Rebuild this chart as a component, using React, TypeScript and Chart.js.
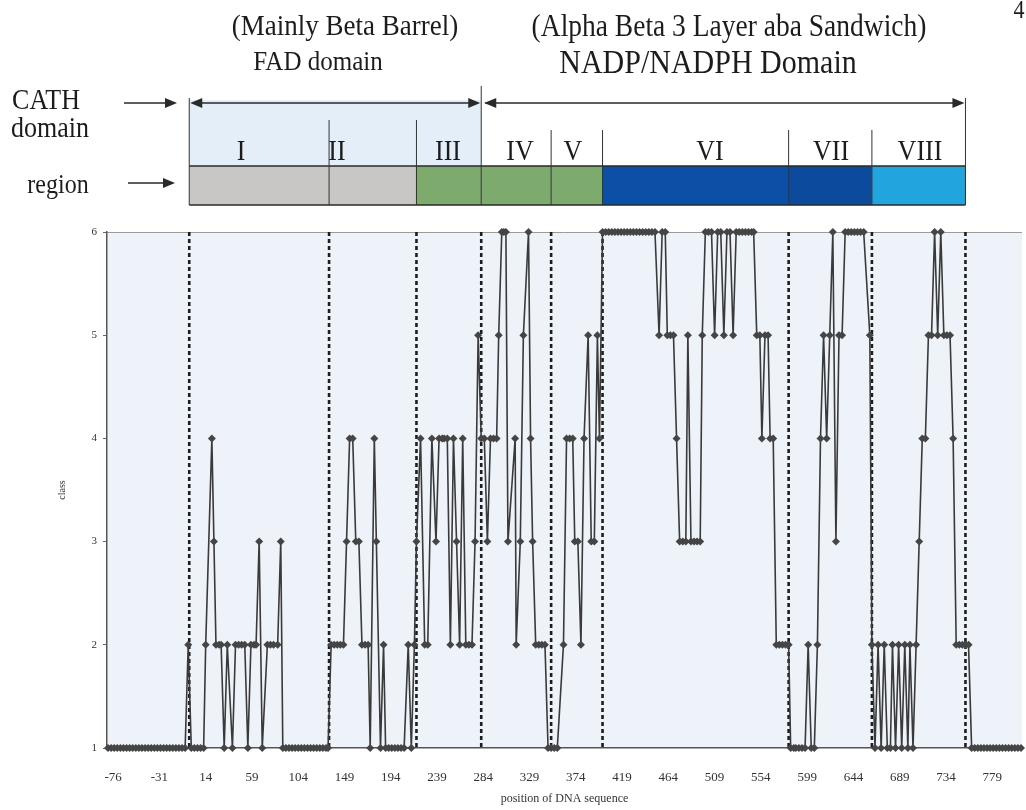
import React, { useEffect, useRef } from 'react';
import { Chart, registerables } from 'chart.js';

Chart.register(...registerables);

const SERIF = '"Liberation Serif", "Times New Roman", serif';

// x-axis tick labels (position of DNA sequence)
const X_TICKS = [-76, -31, 14, 59, 104, 149, 194, 239, 284, 329, 374, 419, 464, 509, 554, 599, 644, 689, 734, 779];
const Y_TICKS = [1, 2, 3, 4, 5, 6];

// regions (I..VIII) and their boundaries on the position axis
const REGION_NAMES = ['I', 'II', 'III', 'IV', 'V', 'VI', 'VII', 'VIII'];
const REGION_BOUNDS = [-2, 134, 219, 282, 350, 400, 581, 662, 753];
const REGION_COLORS = ['#c8c7c5', '#c8c7c5', '#7dab6e', '#7dab6e', '#7dab6e', '#0b4fa6', '#0b4a9d', '#22a4df'];
// CATH domains: FAD domain | NADP/NADPH domain
const CATH_BOUNDS = [-2, 282, 753];

// series: position of DNA sequence -> class
const POSITIONS = [
  -81, -78, -75, -72, -69, -66, -63, -60, -57, -54, -51, -48, -45,
  -42, -39, -36, -33, -30, -27, -24, -21, -18, -15, -12, -9, -6,
  -3, 0, 3, 6, 9, 12, 14, 20, 22, 24, 27, 29, 32,
  35, 40, 43, 46, 49, 52, 55, 58, 61, 63, 66, 69,
  74, 77, 80, 84, 87, 89, 92, 95, 98, 101, 104, 107,
  110, 113, 116, 119, 122, 125, 128, 131, 133, 136, 139, 142, 145, 148,
  151, 154, 157, 160, 163, 166, 169, 172, 174, 178, 180, 184, 187,
  189, 192, 195, 198, 201, 204, 207, 211, 214, 217, 219, 223,
  227, 230, 234, 238, 241, 244, 246, 249, 252, 255, 258, 261,
  264, 267, 270, 273, 276, 279, 282, 285, 288, 291, 294, 297,
  299, 302, 304, 306, 308, 315, 316, 320, 323, 328, 330, 332,
  335, 338, 341, 344, 347, 350, 353, 356, 362, 365, 368, 371,
  373, 376, 379, 382, 386, 389, 392, 395, 397, 400,
  403, 406, 409, 412, 415, 418, 421, 424, 427, 430, 433, 436, 439, 442, 445, 448, 451,
  455, 458, 461, 463, 466, 469, 472, 475, 478, 481, 483, 486, 489, 492, 495, 497,
  500, 503, 506, 509, 512, 515, 518, 521, 524, 527, 530, 533, 536, 539, 542, 545, 547,
  550, 553, 555, 558, 561, 563, 566, 569, 572, 575, 578, 581,
  583, 586, 588, 591, 594, 597, 600, 603, 606, 609, 612, 615, 618, 621, 624, 627,
  630, 633, 636, 639, 642, 645, 648, 651, 654, 660,
  662, 665, 668, 671, 674, 677, 680, 682, 685, 688, 691, 694, 697, 699, 702, 705,
  708, 711, 714, 717, 720, 723, 726, 729, 732, 735, 738, 741,
  744, 747, 750, 753, 756, 759, 762, 765, 768, 771, 774, 777,
  780, 783, 786, 789, 792, 795, 798, 801, 804, 807,
];
const CLASSES = [
  1, 1, 1, 1, 1, 1, 1, 1, 1, 1, 1, 1, 1,
  1, 1, 1, 1, 1, 1, 1, 1, 1, 1, 1, 1, 1,
  2, 1, 1, 1, 1, 1, 2, 4, 3, 2, 2, 2, 1,
  2, 1, 2, 2, 2, 2, 1, 2, 2, 2, 3, 1,
  2, 2, 2, 2, 3, 1, 1, 1, 1, 1, 1, 1,
  1, 1, 1, 1, 1, 1, 1, 1, 1, 2, 2, 2, 2, 2,
  3, 4, 4, 3, 3, 2, 2, 2, 1, 4, 3, 1, 2,
  1, 1, 1, 1, 1, 1, 1, 2, 1, 2, 3, 4,
  2, 2, 4, 3, 4, 4, 4, 4, 2, 4, 3, 2,
  4, 2, 2, 2, 3, 5, 4, 4, 3, 4, 4, 4,
  5, 6, 6, 6, 3, 4, 2, 3, 5, 6, 4, 3,
  2, 2, 2, 2, 1, 1, 1, 1, 2, 4, 4, 4,
  3, 3, 2, 4, 5, 3, 3, 5, 4, 6,
  6, 6, 6, 6, 6, 6, 6, 6, 6, 6, 6, 6, 6, 6, 6, 6, 6,
  5, 6, 6, 5, 5, 5, 4, 3, 3, 3, 5, 3, 3, 3, 3, 5,
  6, 6, 6, 5, 6, 6, 5, 6, 6, 5, 6, 6, 6, 6, 6, 6, 6,
  5, 5, 4, 5, 5, 4, 4, 2, 2, 2, 2, 2,
  1, 1, 1, 1, 1, 1, 2, 1, 1, 2, 4, 5, 4, 5, 6, 3,
  5, 5, 6, 6, 6, 6, 6, 6, 6, 5,
  2, 1, 2, 1, 2, 1, 1, 2, 1, 2, 1, 2, 1, 2, 1, 2,
  3, 4, 4, 5, 5, 6, 5, 6, 5, 5, 5, 4,
  2, 2, 2, 2, 2, 1, 1, 1, 1, 1, 1, 1,
  1, 1, 1, 1, 1, 1, 1, 1, 1, 1,
];

function arrowHead(ctx: CanvasRenderingContext2D, x: number, y: number, dir: number) {
  ctx.beginPath();
  ctx.moveTo(x, y);
  ctx.lineTo(x - dir * 12, y - 5);
  ctx.lineTo(x - dir * 12, y + 5);
  ctx.closePath();
  ctx.fill();
}

const decor = {
  id: 'decor',
  beforeDraw(chart: any) {
    const { ctx, chartArea: a, scales } = chart;
    const xs = scales.x;
    ctx.save();
    // plot background
    ctx.fillStyle = '#eef3f9';
    ctx.fillRect(a.left, a.top, a.right - a.left, a.bottom - a.top);
    // top frame line
    ctx.strokeStyle = '#9a9a9a';
    ctx.lineWidth = 1;
    ctx.beginPath();
    ctx.moveTo(a.left, a.top + 0.5);
    ctx.lineTo(a.right, a.top + 0.5);
    ctx.stroke();

    const px = REGION_BOUNDS.map((v) => xs.getPixelForValue(v));
    const cx = CATH_BOUNDS.map((v) => xs.getPixelForValue(v));
    const barTop = 166;
    const barBot = 205;

    // pale wash behind FAD region labels
    ctx.fillStyle = '#e4eef8';
    ctx.fillRect(cx[0], 100, cx[1] - cx[0], barTop - 100);

    // region bar
    for (let i = 0; i < REGION_NAMES.length; i++) {
      ctx.fillStyle = REGION_COLORS[i];
      ctx.fillRect(px[i], barTop, px[i + 1] - px[i], barBot - barTop);
    }
    ctx.strokeStyle = '#2a2a2a';
    ctx.lineWidth = 1.5;
    ctx.beginPath();
    ctx.moveTo(px[0], barTop);
    ctx.lineTo(px[px.length - 1], barTop);
    ctx.moveTo(px[0], barBot);
    ctx.lineTo(px[px.length - 1], barBot);
    ctx.stroke();
    // boundary lines
    ctx.lineWidth = 1;
    ctx.strokeStyle = '#333';
    for (let i = 0; i < px.length; i++) {
      const v = REGION_BOUNDS[i];
      let top = 130;
      if (i === 0 || i === px.length - 1) top = 98;
      else if (v === CATH_BOUNDS[1]) top = 86;
      else if (i <= 2) top = 120;
      ctx.beginPath();
      ctx.moveTo(px[i], top);
      ctx.lineTo(px[i], barBot);
      ctx.stroke();
    }

    // CATH domain double arrows
    const ay = 103;
    ctx.strokeStyle = '#2a2a2a';
    ctx.fillStyle = '#2a2a2a';
    ctx.lineWidth = 1.5;
    ctx.beginPath();
    ctx.moveTo(cx[0] + 4, ay);
    ctx.lineTo(cx[1] - 4, ay);
    ctx.moveTo(cx[1] + 4, ay);
    ctx.lineTo(cx[2] - 4, ay);
    ctx.stroke();
    arrowHead(ctx, cx[0] + 1, ay, -1);
    arrowHead(ctx, cx[1] - 1, ay, 1);
    arrowHead(ctx, cx[1] + 3, ay, -1);
    arrowHead(ctx, cx[2] - 1, ay, 1);

    // side arrows
    ctx.beginPath();
    ctx.moveTo(124, 103);
    ctx.lineTo(170, 103);
    ctx.moveTo(128, 183);
    ctx.lineTo(168, 183);
    ctx.stroke();
    arrowHead(ctx, 177, 103, 1);
    arrowHead(ctx, 175, 183, 1);
    ctx.restore();
  },
  beforeDatasetsDraw(chart: any) {
    const { ctx, chartArea: a, scales } = chart;
    const xs = scales.x;
    ctx.save();
    ctx.strokeStyle = '#1e1e1e';
    ctx.lineWidth = 2.6;
    ctx.setLineDash([4, 3]);
    for (const v of REGION_BOUNDS) {
      const x = xs.getPixelForValue(v);
      ctx.beginPath();
      ctx.moveTo(x, a.top);
      ctx.lineTo(x, a.bottom);
      ctx.stroke();
    }
    ctx.restore();
  },
};

function Label({ x, y, size, text }: { x: number; y: number; size: number; text: string }) {
  return (
    <div
      style={{
        position: 'absolute',
        left: x,
        top: y,
        transform: 'translate(-50%, -50%) scaleY(1.12)',
        fontFamily: SERIF,
        fontSize: size,
        lineHeight: 1,
        whiteSpace: 'nowrap',
        color: '#1c1c1c',
      }}
    >
      {text}
    </div>
  );
}

const REGION_LABEL_X = [241, 337, 448, 520, 573, 710, 831, 920];

export default function App() {
  const ref = useRef<HTMLCanvasElement>(null);
  useEffect(() => {
    const canvas = ref.current!;
    const chart = new Chart(canvas, {
      type: 'line',
      data: {
        datasets: [
          {
            data: POSITIONS.map((x, i) => ({ x, y: CLASSES[i] })),
            borderColor: '#3a3a3a',
            borderWidth: 1.6,
            pointStyle: 'rectRot',
            pointRadius: 4,
            pointBackgroundColor: '#454545',
            pointBorderColor: '#454545',
            pointBorderWidth: 0,
            tension: 0,
            clip: false as any,
          },
        ],
      },
      options: {
        animation: false,
        responsive: false,
        maintainAspectRatio: false,
        layout: { padding: { top: 232, left: 0, right: 0, bottom: 0 } },
        plugins: { legend: { display: false }, tooltip: { enabled: false } },
        scales: {
          x: {
            type: 'linear',
            min: -82,
            max: 808,
            afterBuildTicks: (s: any) => {
              s.ticks = X_TICKS.map((v) => ({ value: v }));
            },
            afterFit: (s: any) => {
              s.height = 62;
            },
            grid: { display: false },
            border: { display: true, color: '#555', width: 1.5 },
            ticks: {
              padding: 14,
              color: '#333',
              autoSkip: false,
              maxRotation: 0,
              font: { family: SERIF, size: 13 },
              callback: (v: any) => String(v),
            },
            title: {
              display: true,
              text: 'position of DNA sequence',
              color: '#333',
              font: { family: SERIF, size: 12 },
              padding: { top: 0, bottom: 4 },
            },
          },
          y: {
            min: 1,
            max: 6,
            afterBuildTicks: (s: any) => {
              s.ticks = Y_TICKS.map((v) => ({ value: v }));
            },
            afterFit: (s: any) => {
              s.width = 107;
            },
            grid: { drawOnChartArea: false, drawTicks: true, tickLength: 4, color: '#666' },
            border: { display: true, color: '#555', width: 1.5 },
            ticks: { padding: 6, color: '#333', font: { family: SERIF, size: 11 } },
            title: {
              display: true,
              text: 'class',
              color: '#333',
              font: { family: SERIF, size: 10 },
              padding: { top: 56, bottom: 0 },
            },
          },
        },
      } as any,
      plugins: [decor],
    });
    return () => chart.destroy();
  }, []);

  return (
    <div style={{ position: 'fixed', left: 0, top: 0, width: 1026, height: 810, background: '#ffffff', overflow: 'hidden' }}>
      <canvas ref={ref} width={1026} height={810} style={{ position: 'absolute', left: 0, top: 0, display: 'block' }} />
      <Label x={345} y={25} size={27} text="(Mainly Beta Barrel)" />
      <Label x={318} y={60} size={25} text="FAD domain" />
      <Label x={729} y={26} size={27.5} text="(Alpha Beta 3 Layer aba Sandwich)" />
      <Label x={708} y={62} size={30} text="NADP/NADPH Domain" />
      <Label x={46} y={100} size={26} text="CATH" />
      <Label x={50} y={128} size={26} text="domain" />
      <Label x={58} y={184} size={24} text="region" />
      <Label x={1019} y={10} size={22} text="4" />
      {REGION_NAMES.map((n, i) => (
        <Label key={n} x={REGION_LABEL_X[i]} y={151} size={26} text={n} />
      ))}
    </div>
  );
}
